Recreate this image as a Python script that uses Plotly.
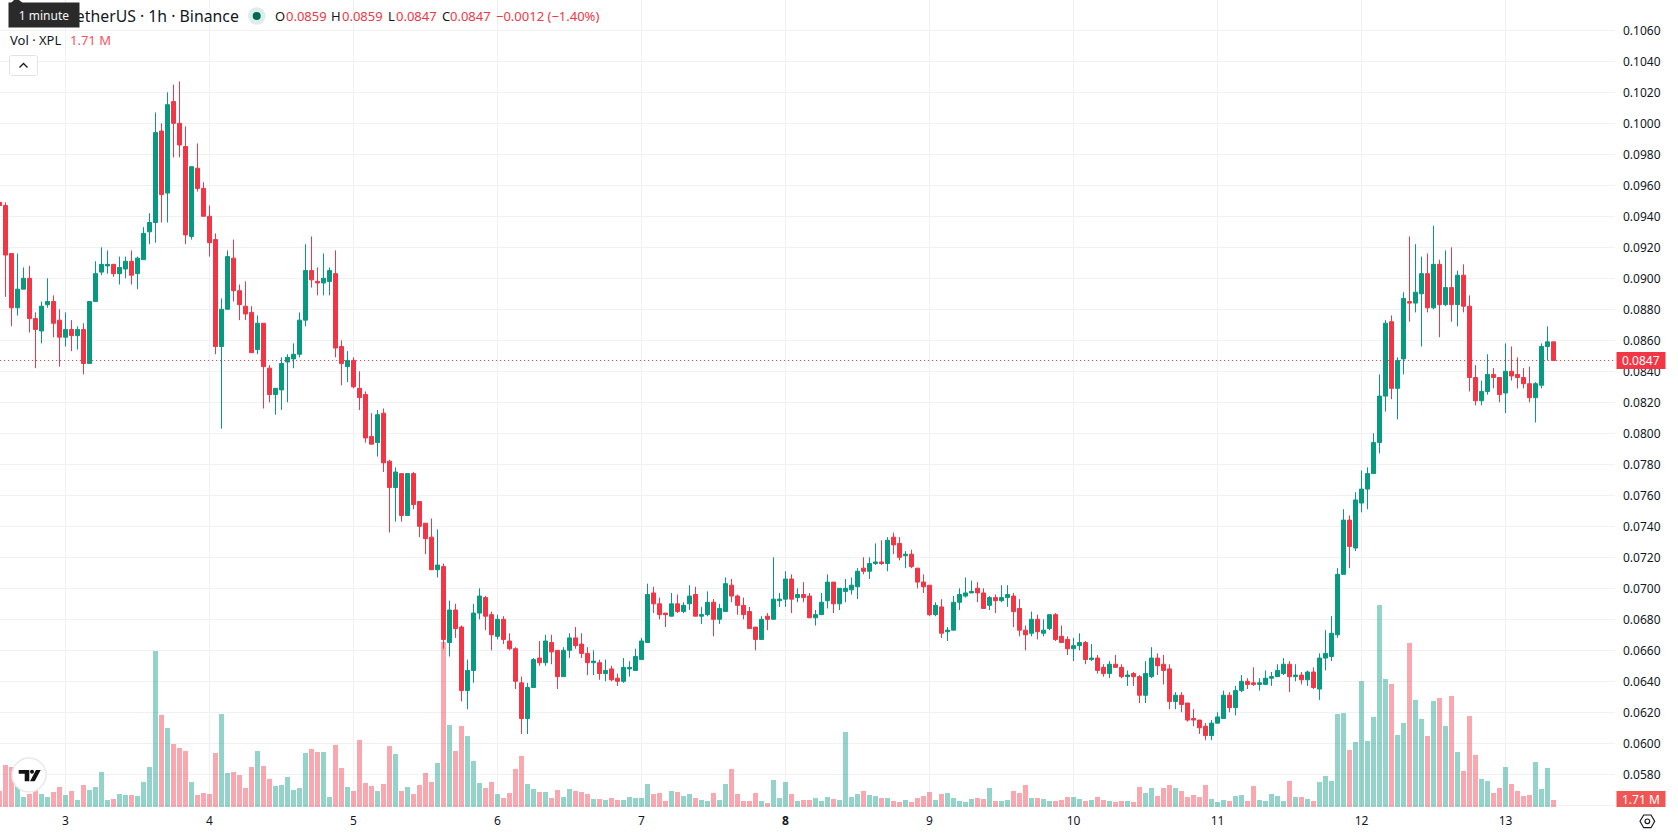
import plotly.graph_objects as go

# Hourly candles of XPL/USDT; hour 10 is the start of day 3
hours = list(range(-1, 259))

opens = [
    0.0949,0.0947,0.0916,0.0881,0.0893,0.0900,0.0874,0.0866,0.0883,0.0885,
    0.0873,0.0862,0.0867,0.0863,0.0867,0.0845,0.0885,0.0904,0.0908,0.0909,
    0.0903,0.0906,0.0911,0.0903,0.0912,0.0930,0.0936,0.0995,0.0955,0.1014,
    0.1000,0.0985,0.0927,0.0971,0.0958,0.0940,0.0925,0.0856,0.0880,0.0913,
    0.0892,0.0882,0.0878,0.0854,0.0871,0.0842,0.0825,0.0828,0.0846,0.0848,
    0.0851,0.0873,0.0905,0.0898,0.0897,0.0898,0.0903,0.0856,0.0843,0.0847,
    0.0829,0.0825,0.0798,0.0794,0.0813,0.0782,0.0765,0.0774,0.0747,0.0774,
    0.0756,0.0742,0.0733,0.0712,0.0714,0.0665,0.0686,0.0675,0.0634,0.0647,
    0.0684,0.0694,0.0683,0.0669,0.0680,0.0666,0.0661,0.0639,0.0616,0.0636,
    0.0655,0.0652,0.0665,0.0660,0.0643,0.0660,0.0668,0.0664,0.0658,0.0652,
    0.0652,0.0645,0.0648,0.0642,0.0640,0.0648,0.0647,0.0654,0.0665,0.0697,
    0.0690,0.0684,0.0682,0.0690,0.0685,0.0690,0.0696,0.0682,0.0683,0.0691,
    0.0680,0.0685,0.0702,0.0695,0.0689,0.0685,0.0675,0.0667,0.0682,0.0680,
    0.0692,0.0693,0.0706,0.0694,0.0696,0.0695,0.0681,0.0683,0.0692,0.0704,
    0.0690,0.0698,0.0699,0.0701,0.0713,0.0711,0.0716,0.0717,0.0716,0.0733,
    0.0729,0.0721,0.0722,0.0713,0.0704,0.0702,0.0683,0.0688,0.0672,0.0673,
    0.0691,0.0695,0.0697,0.0700,0.0697,0.0689,0.0694,0.0692,0.0694,0.0695,
    0.0687,0.0673,0.0671,0.0680,0.0671,0.0674,0.0683,0.0669,0.0667,0.0661,
    0.0663,0.0665,0.0654,0.0655,0.0649,0.0645,0.0651,0.0649,0.0643,0.0645,
    0.0643,0.0631,0.0643,0.0655,0.0651,0.0648,0.0627,0.0631,0.0626,0.0616,
    0.0615,0.0611,0.0605,0.0613,0.0616,0.0631,0.0623,0.0634,0.0640,0.0639,
    0.0638,0.0638,0.0642,0.0643,0.0645,0.0651,0.0643,0.0644,0.0641,0.0646,
    0.0635,0.0655,0.0656,0.0670,0.0709,0.0744,0.0726,0.0755,0.0764,0.0774,
    0.0794,0.0824,0.0872,0.0829,0.0848,0.0885,0.0884,0.0890,0.0903,0.0881,
    0.0909,0.0883,0.0894,0.0883,0.0902,0.0882,0.0836,0.0821,0.0827,0.0838,
    0.0836,0.0826,0.0840,0.0838,0.0836,0.0832,0.0823,0.0831,0.0856,0.0859,
]
highs = [
    0.0949,0.0949,0.0916,0.0916,0.0907,0.0908,0.0878,0.0885,0.0900,0.0889,
    0.0880,0.0878,0.0873,0.0869,0.0871,0.0885,0.0911,0.0920,0.0918,0.0909,
    0.0914,0.0914,0.0918,0.0914,0.0933,0.0942,0.1007,0.1000,0.1020,0.1025,
    0.1027,0.0998,0.0972,0.0987,0.0962,0.0947,0.0929,0.0887,0.0918,0.0925,
    0.0896,0.0898,0.0882,0.0876,0.0871,0.0844,0.0829,0.0849,0.0851,0.0858,
    0.0878,0.0922,0.0927,0.0907,0.0916,0.0907,0.0918,0.0860,0.0853,0.0849,
    0.0840,0.0827,0.0813,0.0815,0.0816,0.0783,0.0778,0.0774,0.0774,0.0775,
    0.0756,0.0742,0.0745,0.0738,0.0716,0.0692,0.0690,0.0676,0.0654,0.0690,
    0.0700,0.0695,0.0685,0.0683,0.0682,0.0671,0.0662,0.0643,0.0639,0.0655,
    0.0666,0.0670,0.0670,0.0660,0.0662,0.0671,0.0675,0.0671,0.0662,0.0660,
    0.0654,0.0654,0.0650,0.0645,0.0655,0.0653,0.0661,0.0668,0.0703,0.0701,
    0.0694,0.0684,0.0697,0.0696,0.0691,0.0702,0.0701,0.0688,0.0698,0.0693,
    0.0690,0.0707,0.0706,0.0696,0.0694,0.0688,0.0675,0.0682,0.0684,0.0720,
    0.0697,0.0711,0.0709,0.0700,0.0704,0.0697,0.0686,0.0697,0.0709,0.0704,
    0.0700,0.0706,0.0707,0.0713,0.0720,0.0720,0.0729,0.0731,0.0733,0.0736,
    0.0733,0.0724,0.0725,0.0713,0.0709,0.0702,0.0691,0.0693,0.0675,0.0695,
    0.0700,0.0707,0.0705,0.0704,0.0700,0.0695,0.0696,0.0702,0.0702,0.0697,
    0.0693,0.0676,0.0685,0.0683,0.0680,0.0683,0.0684,0.0676,0.0669,0.0668,
    0.0671,0.0666,0.0664,0.0657,0.0651,0.0653,0.0657,0.0651,0.0647,0.0646,
    0.0644,0.0653,0.0662,0.0658,0.0657,0.0651,0.0633,0.0633,0.0626,0.0622,
    0.0615,0.0613,0.0615,0.0620,0.0634,0.0633,0.0637,0.0644,0.0642,0.0649,
    0.0642,0.0647,0.0646,0.0651,0.0655,0.0653,0.0651,0.0646,0.0647,0.0649,
    0.0658,0.0673,0.0682,0.0713,0.0751,0.0747,0.0762,0.0776,0.0778,0.0800,
    0.0838,0.0873,0.0876,0.0849,0.0891,0.0927,0.0922,0.0914,0.0916,0.0934,
    0.0912,0.0918,0.0920,0.0905,0.0909,0.0889,0.0844,0.0834,0.0851,0.0842,
    0.0836,0.0858,0.0856,0.0849,0.0842,0.0843,0.0833,0.0858,0.0869,0.0859,
]
lows = [
    0.0946,0.0888,0.0869,0.0876,0.0893,0.0865,0.0842,0.0858,0.0881,0.0862,
    0.0843,0.0856,0.0853,0.0854,0.0838,0.0845,0.0885,0.0902,0.0903,0.0901,
    0.0896,0.0900,0.0896,0.0893,0.0912,0.0922,0.0923,0.0936,0.0936,0.0978,
    0.0978,0.0922,0.0925,0.0956,0.0940,0.0914,0.0851,0.0803,0.0880,0.0885,
    0.0873,0.0873,0.0852,0.0851,0.0816,0.0820,0.0812,0.0815,0.0820,0.0842,
    0.0849,0.0869,0.0894,0.0889,0.0889,0.0889,0.0849,0.0831,0.0833,0.0829,
    0.0815,0.0794,0.0793,0.0785,0.0775,0.0736,0.0743,0.0743,0.0747,0.0751,
    0.0733,0.0722,0.0712,0.0707,0.0661,0.0656,0.0668,0.0627,0.0622,0.0639,
    0.0680,0.0673,0.0660,0.0667,0.0664,0.0660,0.0635,0.0606,0.0606,0.0636,
    0.0650,0.0650,0.0651,0.0635,0.0643,0.0655,0.0661,0.0655,0.0644,0.0644,
    0.0641,0.0640,0.0640,0.0637,0.0639,0.0643,0.0647,0.0654,0.0665,0.0684,
    0.0680,0.0675,0.0682,0.0684,0.0684,0.0686,0.0682,0.0677,0.0682,0.0669,
    0.0677,0.0685,0.0691,0.0683,0.0680,0.0674,0.0660,0.0667,0.0673,0.0680,
    0.0688,0.0688,0.0684,0.0691,0.0691,0.0681,0.0676,0.0683,0.0687,0.0684,
    0.0686,0.0691,0.0696,0.0693,0.0709,0.0706,0.0715,0.0715,0.0711,0.0722,
    0.0718,0.0713,0.0713,0.0700,0.0697,0.0682,0.0682,0.0668,0.0666,0.0673,
    0.0686,0.0694,0.0697,0.0691,0.0687,0.0686,0.0684,0.0691,0.0688,0.0675,
    0.0669,0.0660,0.0669,0.0667,0.0669,0.0673,0.0666,0.0665,0.0657,0.0653,
    0.0660,0.0651,0.0653,0.0645,0.0643,0.0642,0.0649,0.0642,0.0637,0.0637,
    0.0626,0.0626,0.0642,0.0644,0.0638,0.0622,0.0622,0.0620,0.0614,0.0611,
    0.0606,0.0602,0.0602,0.0613,0.0616,0.0620,0.0618,0.0633,0.0635,0.0637,
    0.0634,0.0638,0.0637,0.0643,0.0644,0.0633,0.0640,0.0638,0.0637,0.0635,
    0.0628,0.0647,0.0653,0.0668,0.0709,0.0713,0.0724,0.0749,0.0751,0.0774,
    0.0787,0.0814,0.0822,0.0809,0.0838,0.0872,0.0878,0.0856,0.0878,0.0880,
    0.0862,0.0882,0.0872,0.0869,0.0878,0.0827,0.0818,0.0818,0.0825,0.0829,
    0.0820,0.0813,0.0834,0.0829,0.0829,0.0820,0.0807,0.0829,0.0847,0.0847,
]
closes = [
    0.0947,0.0915,0.0881,0.0893,0.0900,0.0874,0.0867,0.0882,0.0885,0.0871,
    0.0862,0.0867,0.0863,0.0867,0.0845,0.0885,0.0903,0.0909,0.0909,0.0903,
    0.0907,0.0911,0.0902,0.0913,0.0929,0.0936,0.0994,0.0954,0.1012,0.1000,
    0.0986,0.0928,0.0972,0.0958,0.0940,0.0923,0.0856,0.0880,0.0914,0.0892,
    0.0883,0.0877,0.0852,0.0871,0.0843,0.0825,0.0829,0.0845,0.0849,0.0851,
    0.0873,0.0905,0.0899,0.0897,0.0900,0.0905,0.0855,0.0845,0.0847,0.0830,
    0.0823,0.0797,0.0793,0.0812,0.0781,0.0765,0.0775,0.0747,0.0774,0.0754,
    0.0740,0.0732,0.0712,0.0715,0.0667,0.0686,0.0674,0.0634,0.0647,0.0684,
    0.0695,0.0682,0.0670,0.0680,0.0667,0.0661,0.0640,0.0616,0.0636,0.0654,
    0.0652,0.0666,0.0659,0.0643,0.0660,0.0668,0.0663,0.0658,0.0652,0.0653,
    0.0645,0.0647,0.0641,0.0640,0.0649,0.0649,0.0656,0.0666,0.0696,0.0690,
    0.0683,0.0683,0.0690,0.0685,0.0689,0.0695,0.0682,0.0683,0.0691,0.0680,
    0.0687,0.0703,0.0695,0.0689,0.0683,0.0674,0.0667,0.0680,0.0680,0.0693,
    0.0693,0.0706,0.0693,0.0696,0.0694,0.0681,0.0683,0.0691,0.0704,0.0690,
    0.0700,0.0700,0.0702,0.0711,0.0711,0.0716,0.0717,0.0716,0.0731,0.0728,
    0.0720,0.0722,0.0714,0.0704,0.0701,0.0683,0.0689,0.0671,0.0673,0.0691,
    0.0696,0.0697,0.0698,0.0697,0.0687,0.0694,0.0692,0.0694,0.0696,0.0685,
    0.0673,0.0670,0.0680,0.0672,0.0673,0.0683,0.0667,0.0665,0.0661,0.0663,
    0.0665,0.0654,0.0655,0.0647,0.0645,0.0651,0.0649,0.0643,0.0644,0.0643,
    0.0631,0.0645,0.0655,0.0650,0.0647,0.0627,0.0631,0.0625,0.0615,0.0615,
    0.0610,0.0605,0.0613,0.0617,0.0631,0.0623,0.0634,0.0640,0.0638,0.0638,
    0.0639,0.0642,0.0643,0.0647,0.0651,0.0643,0.0644,0.0641,0.0646,0.0636,
    0.0655,0.0658,0.0671,0.0709,0.0744,0.0727,0.0757,0.0764,0.0774,0.0794,
    0.0824,0.0871,0.0829,0.0847,0.0887,0.0884,0.0891,0.0903,0.0881,0.0909,
    0.0883,0.0894,0.0883,0.0902,0.0882,0.0836,0.0821,0.0827,0.0838,0.0836,
    0.0825,0.0840,0.0837,0.0836,0.0832,0.0823,0.0832,0.0856,0.0859,0.0847,
]
# Traded volume in millions of XPL
volumes = [
    4.02,10.69,10.17,5.47,2.48,3.25,4.28,3.25,2.48,3.76,
    5.04,2.99,4.02,1.71,5.56,4.28,5.04,8.89,1.71,1.97,
    3.25,2.99,2.99,2.74,6.33,10.17,39.93,23.51,20.18,16.07,
    15.05,14.28,6.33,2.99,3.51,3.25,13.77,23.77,8.64,8.89,
    8.12,4.79,10.17,14.28,10.43,7.10,5.30,5.56,7.61,4.28,
    4.79,13.77,14.79,14.02,14.02,2.48,15.82,9.92,5.04,4.02,
    17.10,6.07,5.30,4.02,5.81,15.56,13.51,4.02,5.04,3.25,
    5.56,8.64,6.33,11.20,42.24,20.95,14.28,20.69,18.13,11.71,
    6.07,4.79,6.33,3.25,2.22,3.51,9.66,13.00,5.81,4.53,
    3.76,3.76,2.22,4.28,2.48,4.53,4.02,3.76,3.25,1.97,
    1.97,1.71,2.22,1.71,1.71,2.48,2.22,2.22,5.81,3.25,
    3.51,1.45,4.02,3.76,2.74,3.25,2.22,1.71,1.45,3.51,
    1.71,5.81,9.66,3.25,1.45,1.45,3.51,1.45,0.94,6.84,
    2.22,6.33,3.25,1.45,1.71,1.71,2.22,1.45,2.48,1.97,
    1.71,19.15,2.48,3.25,4.02,2.99,2.74,2.22,2.22,1.45,
    1.20,1.71,1.20,2.22,2.74,3.76,1.71,3.25,3.51,2.22,
    1.45,1.20,1.97,2.22,1.97,4.79,1.45,1.45,1.71,4.02,
    3.51,5.56,2.22,2.22,1.97,1.45,1.45,1.71,2.48,2.48,
    1.97,1.45,1.71,2.48,1.71,1.45,1.20,1.45,1.45,1.20,
    5.04,3.51,4.79,2.74,4.79,5.56,4.79,4.02,2.48,2.99,
    2.48,5.56,1.97,1.20,1.71,1.45,2.74,2.99,1.45,5.30,
    1.71,1.45,3.25,2.74,1.45,6.58,2.48,2.48,1.97,1.45,
    6.33,7.87,6.58,23.77,24.03,14.54,16.59,32.23,16.84,23.00,
    51.73,32.75,31.46,18.38,21.46,41.98,27.36,22.49,18.13,27.10,
    27.87,20.69,28.39,14.02,9.15,23.26,13.25,7.10,6.58,3.51,
    4.79,10.17,5.81,4.02,2.74,2.99,11.46,4.53,9.92,1.71,
]

day_hours = [10, 34, 58, 82, 106, 130, 154, 178, 202, 226, 250]
day_labels = ["3", "4", "5", "6", "7", "<b>8</b>", "9", "10", "11", "12", "13"]
price_ticks = [0.056, 0.058, 0.060, 0.062, 0.064, 0.066, 0.068, 0.070, 0.072, 0.074, 0.076,
               0.078, 0.080, 0.082, 0.084, 0.086, 0.088, 0.090, 0.092, 0.094, 0.096, 0.098,
               0.100, 0.102, 0.104, 0.106]
price_tick_labels = [""] + [f"{p:.4f}" for p in price_ticks[1:]]

UP = "#089981"
DOWN = "#F23645"
UP_VOL = "rgba(8,153,129,0.43)"
DOWN_VOL = "rgba(242,54,69,0.43)"
GRID = "#F0F1F4"
INK = "#131722"
FONT = "Noto Sans"

W, H = 1678, 835
PANE_W, PANE_H = 1615, 807
PX_PER_HOUR = 6
PX_PER_PRICE = 15500
PX_PER_MVOL = 1 / 0.2565


def fx(px):
    return px / PANE_W


def fy(py):
    return 1 - py / PANE_H


def pt(px, py):
    return f"{fx(px):.6f} {fy(py):.6f}"


def poly(points):
    return "M " + " L ".join(pt(*p) for p in points) + " Z"


vol_colors = [UP_VOL if c >= o else DOWN_VOL for o, c in zip(opens, closes)]

fig = go.Figure()
fig.add_trace(go.Bar(
    x=hours, y=volumes, yaxis="y2", width=5 / PX_PER_HOUR,
    marker=dict(color=vol_colors, line=dict(width=0)), hoverinfo="skip", showlegend=False,
))
fig.add_trace(go.Candlestick(
    x=hours, open=opens, high=highs, low=lows, close=closes,
    increasing=dict(line=dict(color=UP, width=1), fillcolor=UP),
    decreasing=dict(line=dict(color=DOWN, width=1), fillcolor=DOWN),
    whiskerwidth=0, showlegend=False,
))

shapes = [
    # last price line and its axis tag
    dict(type="line", xref="paper", x0=0, x1=1, yref="y", y0=closes[-1], y1=closes[-1],
         line=dict(color=DOWN, width=1, dash="1px,3px"), layer="above"),
    dict(type="rect", xref="paper", yref="paper", x0=fx(1616.5), x1=fx(1665.5), y0=fy(369), y1=fy(352),
         fillcolor=DOWN, line=dict(width=0)),
    dict(type="rect", xref="paper", yref="paper", x0=fx(1616.5), x1=fx(1665.5), y0=fy(807), y1=fy(791),
         fillcolor="#F05654", line=dict(width=0)),
    # collapse button
    dict(type="path", xref="paper", yref="paper",
         path=poly([(11, 55.5), (36, 55.5), (37.5, 57), (37.5, 74), (36, 75.5), (11, 75.5), (9.5, 74), (9.5, 57)]),
         fillcolor="white", line=dict(color="#E0E3EB", width=1)),
    dict(type="path", xref="paper", yref="paper",
         path=f"M {pt(19.5, 67.5)} L {pt(23.5, 63.5)} L {pt(27.5, 67.5)}",
         line=dict(color=INK, width=1.3)),
    # market status dot
    dict(type="circle", xref="paper", yref="paper", x0=fx(248), x1=fx(265.5), y0=fy(24.8), y1=fy(7.2),
         fillcolor="#DCEEEA", line=dict(width=0)),
    dict(type="circle", xref="paper", yref="paper", x0=fx(252.7), x1=fx(260.7), y0=fy(20), y1=fy(12),
         fillcolor="#056656", line=dict(width=0)),
    # tooltip pointer
    dict(type="path", xref="paper", yref="paper", path=poly([(10, 4), (14, 0), (19, 0), (24, 4)]),
         fillcolor="#2A2A2A", line=dict(width=0)),
    # attribution badge
    dict(type="circle", xref="paper", yref="paper", x0=fx(12), x1=fx(46), y0=fy(792), y1=fy(758),
         fillcolor="white", line=dict(color="#E9E9EC", width=1.5)),
    dict(type="path", xref="paper", yref="paper",
         path=poly([(18.7, 770), (29.3, 770), (29.3, 781.3), (24.7, 781.3), (24.7, 773.7), (18.7, 773.7)]),
         fillcolor="#131313", line=dict(width=0)),
    dict(type="circle", xref="paper", yref="paper", x0=fx(30), x1=fx(34), y0=fy(773.7), y1=fy(769.7),
         fillcolor="#131313", line=dict(width=0)),
    dict(type="path", xref="paper", yref="paper",
         path=poly([(36, 770), (40.7, 770), (34.7, 781.3), (30, 781.3)]),
         fillcolor="#131313", line=dict(width=0)),
    # scale settings icon
    dict(type="path", xref="paper", yref="paper",
         path=poly([(1640, 821.3), (1643.7, 815), (1651, 815), (1654.7, 821.3), (1651, 827.7), (1643.7, 827.7)]),
         line=dict(color=INK, width=1.2)),
    dict(type="circle", xref="paper", yref="paper", x0=fx(1645), x1=fx(1649.7), y0=fy(823.7), y1=fy(819),
         line=dict(color=INK, width=1.2)),
]


def note(px, py, text, size=13, color=INK, anchor="left", **kw):
    return dict(xref="paper", yref="paper", x=fx(px), y=fy(py), text=text, showarrow=False,
                xanchor=anchor, yanchor="middle", borderpad=0,
                font=dict(family=FONT, size=size, color=color), **kw)


annotations = [
    note(239.5, 16, "XPL / TetherUS · 1h · Binance", size=15.8, anchor="right"),
    note(274, 16, "O"), note(285, 16, "0.0859", color=DOWN),
    note(330, 16, "H"), note(341, 16, "0.0859", color=DOWN),
    note(387, 16, "L"), note(394.5, 16, "0.0847", color=DOWN),
    note(441, 16, "C"), note(449, 16, "0.0847", color=DOWN),
    note(495, 16, "−0.0012 (−1.40%)", color=DOWN),
    note(9, 40.5, "Vol · XPL"),
    note(69, 40.5, "1.71 M", color="#F7525F"),
    note(44, 15, "1 minute", size=12, color="#F5F5F5", anchor="center",
         bgcolor="#2A2A2A", width=70, height=24),
    note(1641, 360.5, f"{closes[-1]:.4f}", size=12, color="white", anchor="center"),
    note(1641, 799, "1.71 M", size=12, color="white", anchor="center"),
]

fig.update_layout(
    width=W, height=H,
    margin=dict(l=0, r=W - PANE_W, t=0, b=H - PANE_H, pad=0),
    paper_bgcolor="white", plot_bgcolor="white",
    boxgap=0.33, boxgroupgap=0, bargap=0, showlegend=False,
    font=dict(family=FONT, size=12, color=INK),
    xaxis=dict(
        type="linear", range=[-5.5 / PX_PER_HOUR, (PANE_W - 5.5) / PX_PER_HOUR],
        tickmode="array", tickvals=day_hours, ticktext=day_labels,
        showgrid=True, gridcolor=GRID, gridwidth=1, zeroline=False, showline=False,
        ticks="", rangeslider=dict(visible=False), ticklabelstandoff=5,
        tickfont=dict(family=FONT, size=12, color=INK),
    ),
    yaxis=dict(
        side="right", range=[0.08 - (PANE_H - 433.3) / PX_PER_PRICE, 0.08 + 433.3 / PX_PER_PRICE],
        tickmode="array", tickvals=price_ticks, ticktext=price_tick_labels,
        showgrid=True, gridcolor=GRID, gridwidth=1, zeroline=False, showline=False,
        ticks="", ticklabelstandoff=7,
        tickfont=dict(family=FONT, size=12, color=INK),
    ),
    yaxis2=dict(
        overlaying="y", side="left", range=[0, PANE_H / PX_PER_MVOL], visible=False, fixedrange=True,
    ),
    shapes=shapes,
    annotations=annotations,
)

fig.write_html("out.html")
